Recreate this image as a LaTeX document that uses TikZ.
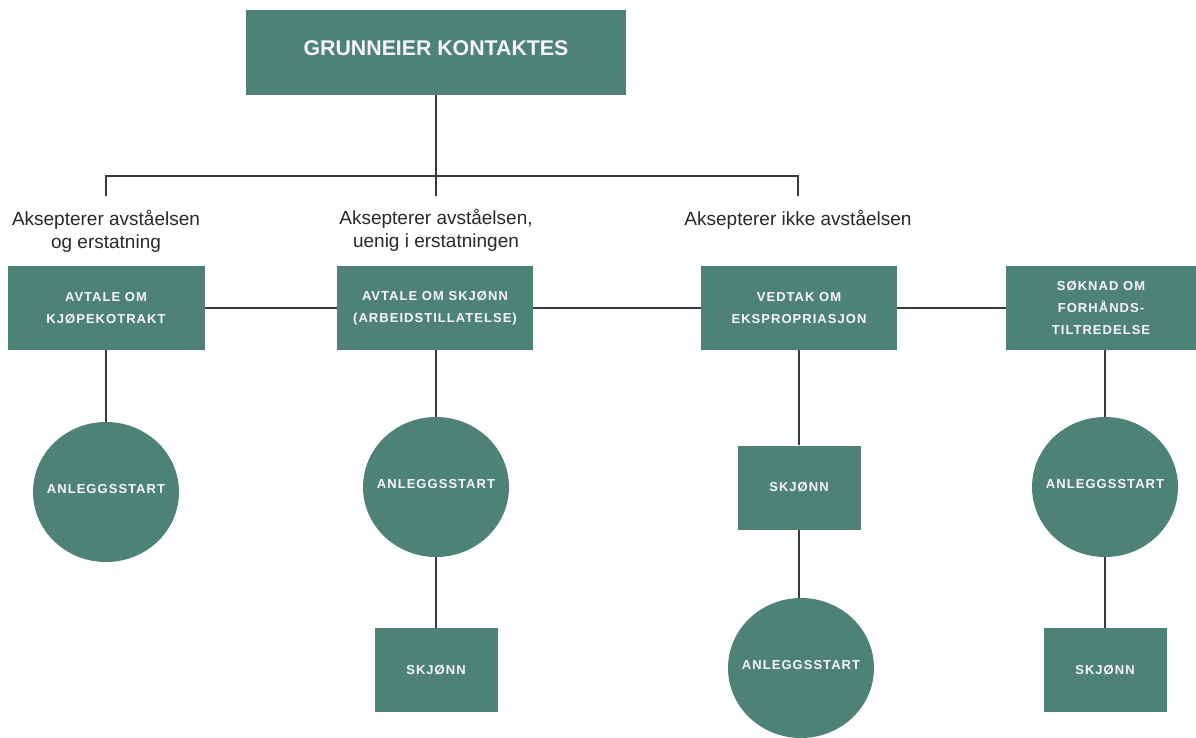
\documentclass[tikz,border=0pt]{standalone}
\usepackage{fontspec}
\setmainfont{Liberation Sans}
\newfontfamily\boksfont[LetterSpace=8]{Liberation Sans}
\usepackage{tikz}
\usetikzlibrary{shapes.geometric}
\definecolor{grunngreen}{RGB}{79,130,118}
\definecolor{linjegray}{RGB}{58,58,58}
\definecolor{svargray}{RGB}{40,40,40}

\begin{document}
\begin{tikzpicture}[x=1pt, y=-1pt,
    boks/.style={rectangle, fill=grunngreen, text=white!94!gray, align=center, inner sep=0pt,
      font=\boksfont\bfseries\fontsize{13}{22}\selectfont, minimum width=196pt, minimum height=84pt},
    liten/.style={boks, minimum width=123pt, minimum height=84pt},
    rund/.style={ellipse, fill=grunngreen, text=white!94!gray, inner xsep=-8pt, inner ysep=0pt, text depth=6pt,
      font=\boksfont\bfseries\fontsize{13}{22}\selectfont, minimum width=146pt, minimum height=140pt},
    svar/.style={text=svargray, align=center, font=\fontsize{19}{23}\selectfont},
    linje/.style={draw=linjegray, line width=1.7pt}]
    \useasboundingbox (0,0) rectangle (1196,737);
    \node [boks, minimum width=380pt, minimum height=85pt, text depth=8pt, font=\bfseries\fontsize{21.3}{24}\selectfont] (kontakt) at (436,52.5) {GRUNNEIER KONTAKTES};
    \coordinate (d1) at (106,196);
    \coordinate (d2) at (436,196);
    \coordinate (d3) at (798,196);
    \node [svar] (svar1) at (106,231.5) {Aksepterer avståelsen\\og erstatning};
    \node [svar] (svar2) at (436,230) {Aksepterer avståelsen,\\uenig i erstatningen};
    \node [svar] (svar3) at (798,220) {Aksepterer ikke avståelsen};
    \node [boks, minimum width=197pt] (kjop) at (106,308) {AVTALE OM\\KJØPEKOTRAKT};
    \node [boks] (avtale) at (435,308) {AVTALE OM SKJØNN\\(ARBEIDSTILLATELSE)};
    \node [boks] (vedtak) at (799,308) {VEDTAK OM\\EKSPROPRIASJON};
    \node [boks, minimum width=190pt] (soknad) at (1101,308) {SØKNAD OM\\FORHÅNDS-\\TILTREDELSE};
    \node [rund] (start1) at (106,492) {ANLEGGSSTART};
    \node [rund] (start2) at (436,487) {ANLEGGSSTART};
    \node [liten] (skjonn2) at (436,670) {SKJØNN};
    \node [liten] (skjonn3) at (799,487.5) {SKJØNN};
    \node [rund] (start3) at (801,668) {ANLEGGSSTART};
    \node [rund] (start4) at (1105,487) {ANLEGGSSTART};
    \node [liten] (skjonn4) at (1105,670) {SKJØNN};
    \draw [linje] (kontakt) to (d2);
    \draw [linje] (d1) -- ++(0,-20) -| (d3);
    \draw [linje] (kjop) to (avtale);
    \draw [linje] (avtale) to (vedtak);
    \draw [linje] (vedtak) to (soknad);
    \draw [linje] (kjop) to (start1);
    \draw [linje] (avtale.south -| start2) to (start2);
    \draw [linje] (start2) to (skjonn2);
    \draw [linje] (vedtak) to (skjonn3);
    \draw [linje] (skjonn3.south) to (start3.north -| skjonn3);
    \draw [linje] (soknad.south -| start4) to (start4);
    \draw [linje] (start4) to (skjonn4);
  \end{tikzpicture}
\end{document}
